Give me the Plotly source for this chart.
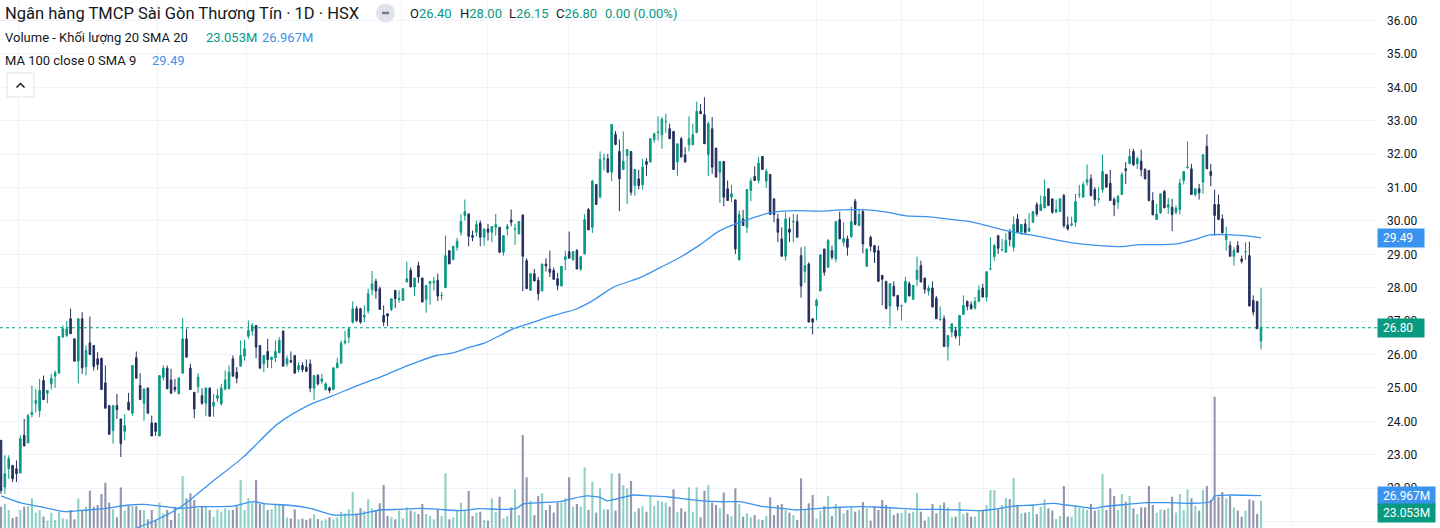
import plotly.graph_objects as go

# ---------------- data ----------------
opens = [
23.43,22.03,22.58,22.68,22.58,22.45,23.58,23.35,24.20,24.54,24.32,25.22,24.84,25.12,25.35,25.44,26.52,26.57,27.07,26.47,
25.80,27.07,25.64,26.35,26.27,25.87,25.89,25.15,24.47,23.72,24.47,24.07,23.70,24.57,24.24,25.90,25.07,24.54,25.00,23.95,
23.95,23.56,25.32,25.59,25.24,25.02,24.82,25.44,26.47,25.59,24.87,25.04,24.77,24.55,24.99,24.45,24.69,24.52,24.97,24.97,
25.87,25.47,25.65,25.95,26.55,26.70,26.87,26.27,25.72,26.09,25.85,25.90,26.05,26.70,25.72,25.82,25.97,25.55,25.67,25.62,
25.72,24.99,25.37,25.19,24.95,25.00,24.95,25.60,25.74,26.35,26.52,26.97,27.37,27.37,
27.12,27.30,27.94,28.19,27.97,27.17,27.22,27.35,27.92,27.65,27.62,28.17,28.52,28.02,28.66,28.29,27.65,28.12,28.15,28.22,
27.76,28.00,29.11,28.84,29.21,29.66,30.16,30.21,29.56,29.66,29.93,29.51,29.76,29.66,29.81,29.81,29.06,29.76,30.03,29.75,
29.61,30.18,28.81,27.92,28.42,28.22,27.90,28.71,28.56,28.52,28.27,28.05,28.84,29.08,28.84,29.11,28.56,29.01,
30.34,29.81,31.09,30.71,31.85,31.86,31.46,32.59,32.08,31.54,31.96,32.08,31.06,31.26,
31.08,31.78,31.76,32.44,32.65,32.58,32.97,32.76,32.68,31.76,32.46,31.98,32.28,32.28,32.64,33.28,33.18,31.98,32.76,32.18,
31.46,31.78,30.96,30.71,30.63,28.84,30.06,29.81,30.91,31.33,31.21,31.93,31.19,31.39,30.66,30.06,29.46,28.94,29.76,29.97,
29.98,28.96,28.49,28.71,27.07,27.45,27.90,29.16,28.61,29.11,28.86,30.04,29.36,29.46,
29.53,30.59,29.86,30.28,28.64,29.51,29.26,29.11,28.37,28.19,27.45,28.04,27.77,27.46,27.57,28.12,27.65,28.25,28.66,28.29,
27.90,27.99,27.69,27.04,27.07,26.24,26.67,26.72,26.55,27.20,27.59,27.49,27.39,27.59,27.99,27.72,28.56,28.93,29.56,29.13,
29.06,29.68,29.21,30.06,29.66,29.91,29.69,29.96,30.49,30.31,30.39,30.96,30.66,30.26,30.28,30.76,
29.88,29.88,29.96,30.78,30.71,31.16,31.26,30.94,30.65,30.94,31.39,31.13,30.64,30.56,30.79,31.56,31.71,32.08,31.71,31.79,
31.54,31.51,30.61,30.04,30.24,30.88,30.41,30.41,30.26,30.34,31.21,31.60,31.56,30.79,30.96,31.16,32.23,31.48,30.49,30.49,
30.06,29.44,29.26,28.94,29.26,28.86,29.07,28.96,27.62,27.59,26.40]
highs = [
23.43,22.98,22.98,22.68,22.83,23.58,24.07,24.22,25.07,24.97,25.27,25.37,24.92,25.42,25.52,26.54,26.87,27.00,27.37,26.47,
27.07,27.27,26.27,27.14,26.27,26.07,25.89,25.67,24.47,24.47,24.82,24.07,24.22,24.85,25.67,26.09,25.44,24.97,25.00,24.17,
23.95,25.37,25.67,25.67,25.57,25.27,25.30,27.09,26.77,25.72,24.87,25.44,24.99,25.00,25.02,24.82,24.97,25.12,25.52,25.67,
25.97,25.62,26.42,26.44,27.02,26.94,26.87,26.27,25.97,26.47,25.92,26.42,26.52,26.72,25.97,26.09,25.97,25.77,25.77,25.85,
25.85,25.37,25.42,25.42,25.17,25.04,25.62,25.90,26.42,26.72,26.82,27.59,27.45,27.40,
27.47,27.97,28.50,28.27,28.04,27.47,27.23,27.67,27.92,27.92,27.97,28.78,28.61,28.29,28.78,28.29,28.07,28.19,28.32,28.42,
27.87,29.56,29.11,29.24,29.49,30.21,30.64,30.21,29.71,30.01,30.01,29.76,29.91,29.83,30.21,29.81,29.56,29.91,30.34,29.91,
29.98,30.18,28.88,28.42,28.56,28.32,28.71,28.88,29.11,28.60,28.44,28.64,29.11,29.68,29.08,29.16,28.93,30.21,
30.39,31.23,31.09,32.08,32.01,32.01,32.89,32.69,32.44,32.68,32.14,32.08,31.54,31.53,
31.86,31.88,32.46,32.64,33.13,33.11,33.21,32.91,32.68,32.31,32.51,32.21,33.13,32.91,33.57,33.50,33.70,32.98,33.11,32.18,
31.78,31.78,31.21,31.08,30.63,30.31,30.33,30.94,31.29,31.63,31.91,31.93,31.56,31.39,30.66,30.21,29.81,30.26,30.11,30.21,
30.19,29.21,29.24,28.76,27.07,27.67,29.01,29.16,29.46,29.26,29.98,30.28,29.96,29.56,
30.43,30.66,30.36,30.36,29.16,29.56,29.26,29.26,28.37,28.19,28.12,28.19,27.77,27.47,28.32,28.19,28.07,28.93,28.81,28.29,
28.07,28.19,27.75,27.44,27.17,26.57,26.92,26.82,27.17,27.77,27.62,27.59,27.72,28.07,28.12,28.48,29.51,29.31,29.56,29.46,
29.63,29.76,30.13,30.21,29.89,30.06,30.23,30.28,30.56,30.76,31.24,30.96,30.66,30.64,30.68,30.81,
30.13,30.13,30.81,31.08,31.18,31.69,31.39,31.01,31.01,31.99,31.39,31.53,30.71,30.78,31.46,31.76,32.16,32.16,31.93,32.13,
31.58,31.51,30.86,30.51,30.81,30.93,30.69,30.66,30.46,31.26,31.48,32.38,31.71,30.96,31.11,31.98,32.59,31.71,30.94,30.78,
30.19,29.83,29.39,29.21,29.39,28.96,29.36,29.38,27.77,27.59,28.00]
lows = [
21.83,21.83,22.28,22.18,22.18,22.45,23.26,23.35,24.12,24.27,24.12,24.65,24.54,24.95,25.00,25.44,26.52,26.52,26.62,25.80,
25.14,25.42,25.37,26.00,25.52,25.54,24.95,24.39,23.61,23.33,24.07,22.93,23.43,24.32,24.17,25.29,24.65,24.02,24.24,23.56,
23.56,23.56,25.22,24.97,24.84,24.87,24.82,25.44,25.92,24.95,24.09,24.85,24.49,24.15,24.14,24.14,24.57,24.47,24.92,24.97,
25.35,25.14,25.65,25.82,26.47,26.57,25.89,25.59,25.47,25.60,25.59,25.77,26.05,25.65,25.64,25.77,25.44,25.47,25.47,25.47,
24.87,24.64,25.07,25.12,24.92,24.85,24.95,25.60,25.74,26.30,26.34,26.92,26.97,26.92,
26.97,27.22,27.77,27.67,27.35,26.85,26.85,27.30,27.39,27.55,27.62,28.17,28.02,27.75,28.14,27.57,27.25,27.49,27.92,27.60,
27.62,28.00,28.71,28.84,29.11,29.56,30.01,29.24,29.39,29.54,29.24,29.26,29.41,29.36,29.56,29.06,28.96,29.56,29.84,29.28,
29.61,27.90,27.97,27.92,28.20,27.62,27.90,28.49,28.32,28.25,27.92,28.05,28.52,28.86,28.81,28.56,28.50,29.01,
29.73,29.64,30.49,30.71,31.51,31.43,31.19,32.26,30.29,31.54,30.51,30.76,30.76,30.94,
30.94,31.34,31.76,32.34,32.41,32.16,32.64,32.46,31.54,31.34,31.91,31.76,32.08,32.28,32.64,33.21,32.31,31.34,31.41,31.31,
30.54,30.44,30.61,30.56,29.01,28.81,29.86,29.64,30.59,31.21,31.13,31.54,30.99,30.19,29.96,29.36,28.94,28.81,29.36,29.36,
29.51,27.70,28.14,26.97,26.60,27.02,27.90,28.36,28.61,28.84,28.76,29.46,29.24,28.96,
29.49,29.89,29.86,29.03,28.64,29.09,28.74,28.19,27.47,27.37,26.85,27.75,27.32,27.02,27.54,27.75,27.65,28.04,28.17,27.82,
27.77,27.42,27.07,27.02,26.24,25.82,26.52,26.47,26.27,27.20,27.32,27.34,27.34,27.59,27.72,27.59,28.52,28.81,29.01,29.09,
29.06,29.24,29.09,29.66,29.59,29.61,29.76,29.96,30.13,30.31,30.39,30.46,30.21,30.26,30.28,29.79,
29.71,29.83,29.83,30.69,30.71,31.06,30.73,30.44,30.54,30.84,31.01,30.61,30.14,30.36,30.79,31.11,31.71,31.64,31.56,31.33,
31.24,30.58,30.18,30.04,30.21,30.39,30.21,29.69,30.19,30.19,31.09,31.56,30.79,30.73,30.64,30.81,31.56,31.04,29.56,30.04,
29.64,29.11,28.94,28.66,29.06,28.73,28.83,27.45,27.17,26.77,26.15]
closes = [
21.93,22.43,22.88,22.28,22.43,23.48,23.26,24.17,24.27,24.62,24.92,24.65,24.92,25.29,25.45,26.54,26.77,26.77,26.62,25.80,
27.07,25.60,26.12,26.00,25.64,25.70,24.95,24.39,23.61,24.47,24.35,23.33,23.87,24.35,25.67,25.29,24.65,24.97,24.24,23.56,
23.70,25.37,25.59,24.97,24.84,24.95,25.30,26.47,25.92,24.95,24.37,25.32,24.54,25.00,24.15,24.57,24.77,24.99,25.24,25.47,
25.35,25.29,25.97,26.17,26.72,26.87,26.22,25.59,25.97,25.85,25.92,26.09,26.42,25.65,25.87,25.77,25.44,25.67,25.55,25.50,
24.99,25.37,25.12,25.27,25.12,24.92,25.60,25.74,26.34,26.40,26.77,27.37,27.02,26.97,
27.17,27.82,28.12,27.90,27.35,26.97,27.15,27.67,27.67,27.67,27.97,28.27,28.02,28.29,28.32,27.57,28.07,28.19,28.19,27.75,
27.77,28.96,28.71,29.24,29.39,29.98,30.28,29.54,29.51,29.89,29.51,29.76,29.66,29.83,29.89,29.06,29.56,29.84,29.96,29.76,
29.98,28.94,27.97,28.42,28.20,27.82,28.71,28.65,28.46,28.25,28.07,28.64,28.93,28.89,29.08,28.56,28.93,30.04,
29.73,31.19,30.49,31.84,31.86,31.46,32.89,32.29,31.26,31.78,32.14,30.86,31.54,31.06,
31.61,31.69,32.46,32.61,32.66,33.04,32.98,32.46,31.54,32.31,31.91,31.76,32.46,32.58,33.28,33.21,32.31,32.91,31.61,31.31,
31.78,30.71,30.61,30.81,29.16,30.19,29.86,30.94,31.19,31.21,31.73,31.54,31.49,30.19,30.19,29.66,28.94,30.06,29.66,29.98,
29.51,28.05,28.66,26.97,26.97,27.62,28.98,28.46,29.41,28.91,29.98,29.46,29.48,29.21,
29.98,29.89,30.19,29.31,29.16,29.24,29.06,28.19,28.25,27.37,28.12,27.75,27.44,27.47,28.19,27.75,28.07,28.52,28.17,27.95,
27.99,27.42,27.07,27.05,26.24,26.57,26.92,26.55,27.17,27.47,27.44,27.37,27.59,27.92,27.72,28.48,28.57,29.26,29.18,29.14,
29.41,29.44,29.89,29.66,29.89,29.66,29.78,30.28,30.21,30.49,30.73,30.46,30.26,30.34,30.66,29.86,
29.76,29.91,30.58,30.79,31.09,31.23,30.76,30.64,30.66,31.48,31.01,30.61,30.48,30.73,31.39,31.51,31.93,31.68,31.86,31.53,
31.26,30.61,30.18,30.21,30.81,30.39,30.49,30.19,30.38,31.13,31.48,31.61,30.79,30.96,30.84,31.98,31.56,31.36,30.16,30.04,
29.64,29.56,28.94,29.11,29.06,28.79,29.08,27.45,27.27,26.77,26.80]
volumes_m = [
18.5,20.6,16.0,9.9,10.9,16.0,18.5,19.0,24.9,14.0,16.0,10.9,7.9,14.0,8.4,14.7,9.6,8.9,16.0,8.9,
24.9,16.0,18.5,30.7,18.5,19.8,28.2,36.8,21.6,16.5,10.4,33.2,15.5,19.0,19.0,19.0,16.0,16.0,8.9,16.0,
8.4,21.6,13.5,16.0,8.4,18.5,13.5,41.9,24.9,28.7,23.6,17.3,19.0,18.5,16.0,10.9,16.5,14.7,17.3,16.0,
16.0,19.0,38.8,16.0,24.9,21.6,38.8,20.6,21.6,16.0,16.5,19.8,19.8,19.8,10.2,9.6,16.5,8.9,9.4,8.4,
9.6,12.7,9.1,7.9,8.9,10.4,8.9,10.4,14.7,13.5,16.5,29.9,13.5,17.3,
15.5,24.1,17.3,16.0,21.1,35.0,11.4,10.4,8.9,15.5,9.6,18.0,15.5,14.7,12.9,20.6,12.9,11.4,8.9,16.5,
11.4,43.9,8.9,10.4,16.0,21.6,16.0,30.5,11.4,14.0,14.7,8.4,7.9,24.9,14.7,26.1,9.6,11.4,18.0,31.7,
12.2,73.1,40.9,23.1,12.2,26.7,28.7,16.0,19.8,14.0,21.6,21.6,24.9,40.9,18.5,20.6,18.5,48.5,16.0,37.6,
14.0,32.5,16.5,16.5,43.9,15.5,43.9,35.0,32.5,38.1,14.7,17.3,19.0,14.7,26.7,19.0,23.1,22.3,21.6,18.5,
31.7,14.7,17.3,14.7,33.2,14.7,33.2,10.4,30.7,35.0,21.6,19.8,17.3,
29.2,12.9,11.4,32.5,20.6,10.9,13.5,10.4,12.2,8.9,8.4,11.4,25.6,12.2,19.8,20.6,16.0,14.0,12.2,8.4,
40.1,16.0,21.1,27.4,9.4,15.5,19.0,26.7,11.4,20.6,18.0,13.5,16.0,18.5,14.7,16.0,22.1,17.3,7.9,19.0,
16.0,23.6,19.8,17.3,12.2,13.5,13.5,16.0,13.5,14.7,29.2,14.7,7.9,10.9,20.6,13.5,19.8,21.6,18.0,10.4,
10.9,22.1,12.9,14.0,10.9,10.9,15.5,15.5,19.8,31.2,31.2,16.5,19.8,25.1,24.4,40.4,19.8,13.5,14.0,14.5,
19.8,12.9,18.5,24.1,17.3,15.5,9.1,11.4,34.3,10.9,10.9,19.8,18.0,
17.3,16.0,20.6,15.5,16.5,43.4,16.0,32.5,26.7,16.0,28.2,22.3,26.7,17.3,12.9,18.0,18.0,34.3,19.8,14.0,
16.5,16.0,17.3,26.1,14.0,28.2,16.0,31.7,24.9,19.0,15.5,31.2,34.3,23.6,102.3,26.1,29.7,24.9,26.7,18.0,
15.5,10.9,15.5,24.1,23.1,12.9,23.053]

# MA 100 (close) and volume SMA 20, read at points along the drawn lines (x = bar index)
ma100_idx = [34.7,39.3,46.3,54.1,62.6,71.7,79.4,85.9,92.9,98.1,103.2,107.6,112.7,117.0,121.3,125.2,129.1,132.5,136.0,
             139.5,144.6,149.0,153.2,158.4,165.3,170.5,175.7,180.9,186.0,191.2,196.4,199.7,205.9,211.9,217.1,224.0,
             229.2,234.3,239.5,244.7,249.9,255.0,259.3,263.6,268.8,274.0,279.2,284.3,289.5,294.7,300.7,305.0,308.5,
             312.8,317.1,322.3,326.0]
ma100_val = [20.79,21.00,21.42,22.14,22.92,23.93,24.47,24.77,25.10,25.32,25.57,25.77,25.97,26.05,26.22,26.35,26.57,26.77,26.90,
             27.04,27.22,27.37,27.62,28.01,28.30,28.60,28.91,29.29,29.71,29.96,30.16,30.26,30.31,30.29,30.33,30.33,
             30.26,30.15,30.13,30.06,29.99,29.86,29.73,29.63,29.53,29.41,29.31,29.26,29.23,29.29,29.29,29.33,29.43,
             29.58,29.59,29.55,29.49]
vsma_idx = [0,4.9,10.1,16.6,22.2,27.3,32.5,36.8,41.1,46.3,51.5,60.1,65.3,68.7,73.9,80.0,86.0,92.9,98.1,103.2,108.4,
            113.6,118.8,123.9,129.1,133.4,135.1,139.5,144.6,148.1,151.5,155.0,156.7,161.0,163.6,167.9,172.2,175.7,
            180.9,186.0,191.2,196.4,201.6,205.9,211.9,217.1,222.3,227.4,232.6,237.8,242.9,248.1,253.3,258.5,261.9,
            267.1,272.3,275.7,279.2,282.6,285.2,289.5,296.4,301.6,307.6,313.0,314.0,318.0,326.0]
vsma_val = [26.7,21.6,18.5,14.7,16.0,17.3,19.6,20.3,19.0,17.3,18.5,19.0,22.3,20.6,19.8,17.3,12.2,12.9,16.0,16.5,17.3,
            16.5,15.5,17.0,16.5,17.3,20.6,21.6,22.3,24.9,26.7,25.7,23.1,25.7,27.4,26.7,26.1,24.9,
            23.1,22.3,22.3,19.0,17.3,16.0,17.3,18.1,18.5,18.1,17.3,16.5,16.5,16.0,15.5,17.3,19.0,
            19.8,21.1,19.8,18.5,17.3,18.5,19.8,21.6,21.6,21.1,22.3,26.6,27.4,26.967]

price_ticks = [21,22,23,24,25,26,27,28,29,30,31,32,33,34,35,36]
month_lines = [4.4,40.4,63.4,103.5,126.0,146.7,169.7,211.1,233.1,254.1,276.1,313.3,334.0]

last_close = 26.80
ma_last = 29.49
vol_last_label = "23.053M"
vsma_last_label = "26.967M"

# ---------------- style ----------------
GREEN = "#089981"
NAVY = "#252f5e"
BLUE = "#3a93ee"
TXT = "#131722"
GRID = "#f0f3fa"
FONT = "Roboto, 'Liberation Sans', sans-serif"
W, H = 1440, 528
PLOT_W = 1377

idx = list(range(len(closes)))
vol_colors = ["rgba(8,153,129,0.45)" if c >= o else "rgba(37,47,94,0.5)" for o, c in zip(opens, closes)]

fig = go.Figure()
fig.add_trace(go.Bar(x=idx, y=volumes_m, marker=dict(color=vol_colors, line=dict(width=0)),
                     width=0.55, yaxis="y", hoverinfo="skip"))
fig.add_trace(go.Scatter(x=vsma_idx, y=vsma_val, mode="lines", yaxis="y",
                         line=dict(color=BLUE, width=1.3, shape="spline", smoothing=0.6), hoverinfo="skip"))
fig.add_trace(go.Candlestick(x=idx, open=opens, high=highs, low=lows, close=closes, yaxis="y2",
                             whiskerwidth=0,
                             increasing=dict(line=dict(color=GREEN, width=1), fillcolor=GREEN),
                             decreasing=dict(line=dict(color=NAVY, width=1), fillcolor=NAVY),
                             hoverinfo="skip"))
fig.add_trace(go.Scatter(x=ma100_idx, y=ma100_val, mode="lines", yaxis="y2",
                         line=dict(color=BLUE, width=1.3, shape="spline", smoothing=0.8), hoverinfo="skip"))

spacing = 1260.0 / (len(closes) - 1)
r0 = -1.0 / spacing
r1 = r0 + PLOT_W / spacing

def px(xp):
    return xp / PLOT_W

def py(yp):
    return 1 - yp / H

annotations = []
def txt(x, y, text, size=13, color=TXT, **kw):
    annotations.append(dict(xref="paper", yref="paper", x=px(x), y=py(y), text=text, showarrow=False,
                            xanchor="left", yanchor="middle", font=dict(family=FONT, size=size, color=color),
                            borderpad=0, **kw))

def g(s):
    return f"<span style='color:{GREEN}'>{s}</span>"

txt(4, 13, "Ngân hàng TMCP Sài Gòn Thương Tín · 1D · HSX", size=16.5)
txt(409, 13, "O" + g("26.40"))
txt(459, 13, "H" + g("28.00"))
txt(508, 13, "L" + g("26.15"))
txt(555, 13, "C" + g("26.80"))
txt(604, 13, g("0.00 (0.00%)"))
txt(4, 37, "Volume - Khối lượng 20 SMA 20")
txt(205, 37, vol_last_label, color=GREEN)
txt(261, 37, vsma_last_label, color=BLUE)
txt(4, 60, "MA 100 close 0 SMA 9")
txt(151, 60, f"{ma_last:.2f}", color=BLUE)

# price-axis labels
def axis_label(yref, y, text, bg):
    annotations.append(dict(xref="paper", yref=yref, x=1.0, y=y, text=text, showarrow=False,
                            xanchor="left", yanchor="middle", bgcolor=bg, borderpad=2,
                            font=dict(family=FONT, size=12, color="white")))

axis_label("y2", ma_last, f"&nbsp;{ma_last:.2f}&nbsp;&nbsp;&nbsp;", BLUE)
axis_label("y2", last_close, f"&nbsp;{last_close:.2f}&nbsp;&nbsp;&nbsp;", GREEN)
axis_label("paper", py(496), f"&nbsp;{vsma_last_label}&nbsp;", BLUE)
axis_label("paper", py(513), f"&nbsp;{vol_last_label}&nbsp;", GREEN)

shapes = [
    dict(type="line", xref="paper", yref="y2", x0=0, x1=1, y0=last_close, y1=last_close,
         line=dict(color=GREEN, width=1, dash="dot"), layer="below"),
    dict(type="circle", xref="paper", yref="paper", x0=px(376), x1=px(395), y0=py(22.5), y1=py(3.5),
         fillcolor="#e0e3eb", line=dict(width=0)),
    dict(type="line", xref="paper", yref="paper", x0=px(382), x1=px(389), y0=py(13), y1=py(13),
         line=dict(color="#787b86", width=2.5)),
    dict(type="rect", xref="paper", yref="paper", x0=px(7), x1=px(34), y0=py(97), y1=py(73),
         fillcolor="white", line=dict(color="#e0e3eb", width=1)),
    dict(type="path", xref="paper", yref="paper",
         path=f"M {px(16.5)} {py(87.5)} L {px(20.5)} {py(83.5)} L {px(24.5)} {py(87.5)}",
         line=dict(color=TXT, width=1.5)),
]

fig.update_layout(
    width=W, height=H, margin=dict(l=0, r=W - PLOT_W, t=0, b=0),
    paper_bgcolor="white", plot_bgcolor="white", showlegend=False, hovermode=False,
    boxgap=0.42,
    xaxis=dict(range=[r0, r1], tickvals=month_lines, showticklabels=False, showgrid=True, gridcolor=GRID,
               gridwidth=1, zeroline=False, rangeslider=dict(visible=False), fixedrange=True, ticks=""),
    yaxis=dict(range=[(531 - 528) / 1.313, 531 / 1.313], visible=False, showgrid=False, fixedrange=True),
    yaxis2=dict(range=[36 - 507.5 / 33.4, 36 + 20.5 / 33.4], overlaying="y", side="right", anchor="x",
                tickvals=price_ticks, ticktext=[f"{t:.2f}" for t in price_ticks],
                showgrid=True, gridcolor=GRID, gridwidth=1, zeroline=False, ticks="", showline=False,
                tickfont=dict(family=FONT, size=12, color=TXT), ticklabelstandoff=9, fixedrange=True),
    annotations=annotations, shapes=shapes,
)

fig.write_html("out.html")
